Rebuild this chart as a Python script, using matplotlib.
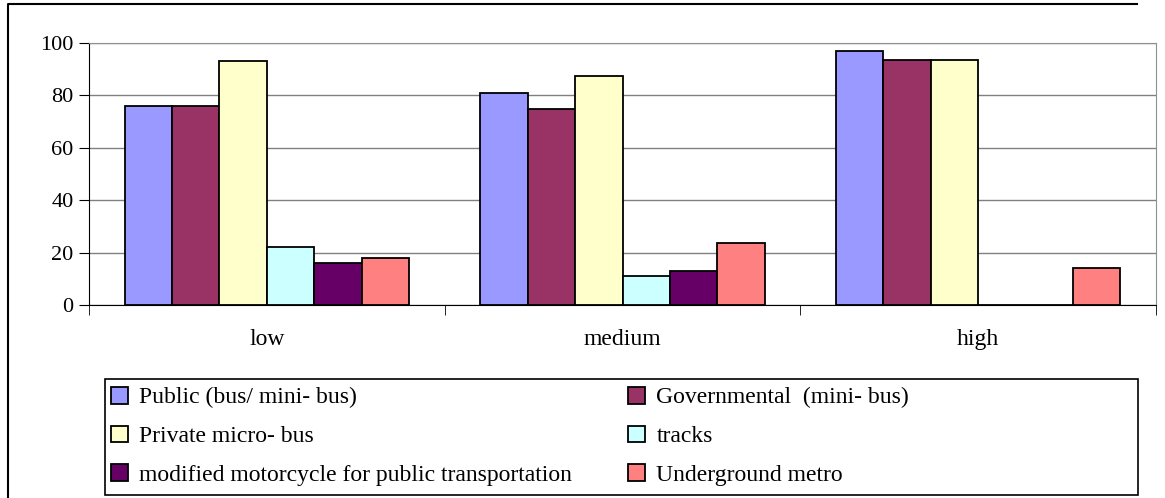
import matplotlib.pyplot as plt
import numpy as np
from matplotlib.lines import Line2D
from matplotlib.patches import Rectangle

# ---- data ----
categories = ['low', 'medium', 'high']
series_names = ['Public (bus/ mini- bus)', 'Governmental  (mini- bus)',
                'Private micro- bus', 'tracks',
                'modified motorcycle for public transportation', 'Underground metro']
public = [76, 81, 97]
governmental = [76, 75, 93.5]
private = [93, 87.5, 93.5]
tracks = [22, 11, 0]
motorcycle = [16, 13, 0]
metro = [18, 23.5, 14]
series_values = [public, governmental, private, tracks, motorcycle, metro]
colors = ['#9999FF', '#993366', '#FFFFCC', '#CCFFFF', '#660066', '#FF8080']
y_ticks = [0, 20, 40, 60, 80, 100]

plt.rcParams['font.family'] = ['Liberation Serif', 'DejaVu Serif']

W, H = 1165, 498
fig = plt.figure(figsize=(W / 100, H / 100), dpi=100)

def px(x, y):
    # pixel coords (origin top-left) -> figure fraction
    return x / W, 1 - y / H

# outer chart border (left and top edges are the only visible parts)
(x0, y0), (x1, y1), (x2, y2) = px(8, 498), px(8, 4), px(1137, 4)
fig.add_artist(Line2D([x0, x1, x2], [y0, y1, y2], transform=fig.transFigure,
                      color='black', lw=1.5, zorder=-1))

ax = fig.add_axes([89 / W, (H - 305) / H, (1156 - 89) / W, (305 - 43) / H])

x = np.arange(len(categories))
width = 0.8 / len(series_values)
bars = []
for i, (vals, col, name) in enumerate(zip(series_values, colors, series_names)):
    b = ax.bar(x + (i - 2.5) * width, vals, width, color=col,
               edgecolor='black', linewidth=1.3, label=name, zorder=3)
    bars.append(b)

ax.set_xlim(-0.5, len(categories) - 0.5)
ax.set_ylim(0, 100)
ax.set_yticks(y_ticks)
ax.yaxis.grid(True, color='#808080', lw=1)
ax.set_axisbelow(True)

for s in ['top', 'right']:
    ax.spines[s].set_color('#909090')
ax.spines['left'].set_color('black')
ax.spines['bottom'].set_color('black')

ax.tick_params(axis='y', direction='out', length=7, labelsize=16, pad=4)
ax.set_xticks(x)
ax.set_xticklabels(categories)
ax.set_xticks(np.arange(len(categories) + 1) - 0.5, minor=True)
ax.tick_params(axis='x', which='major', length=0, labelsize=17, pad=17)
ax.tick_params(axis='x', which='minor', direction='out', length=7)

# legend: 3 rows x 2 columns, drawn as two single-column legends
leg_kw = dict(loc='upper left', frameon=False, fontsize=17,
              handlelength=0.7, handleheight=0.7, handletextpad=0.5,
              labelspacing=0.72, borderaxespad=0, borderpad=0)
col1 = [0, 2, 4]
col2 = [1, 3, 5]
leg1 = fig.legend([bars[i] for i in col1], [series_names[i] for i in col1],
                  bbox_to_anchor=px(111, 387), **leg_kw)
leg2 = fig.legend([bars[i] for i in col2], [series_names[i] for i in col2],
                  bbox_to_anchor=px(628, 387), **leg_kw)
lx, ly = px(105, 495)
fig.patches.append(Rectangle((lx, ly), (1138 - 105) / W, (495 - 379) / H,
                             transform=fig.transFigure, fill=False,
                             edgecolor='black', lw=1.2))

fig.savefig('out.png', dpi=100)
